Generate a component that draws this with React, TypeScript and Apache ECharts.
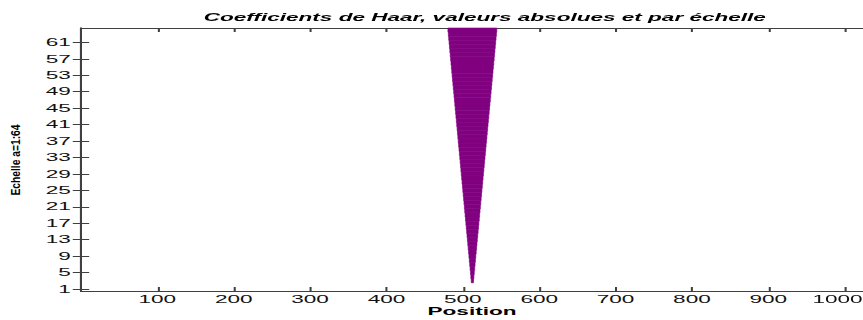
import React, { useEffect, useRef } from "react";
import * as echarts from "echarts";

// The reference picture is stretched horizontally; draw at a narrower width and stretch.
const S = 2.05;
const W = 863 / S;
const H = 320;

const titleText = "Coefficients de Haar, valeurs absolues et par échelle";
const xName = "Position";
const yName = "Echelle a=1:64";

const xTicks = [100, 200, 300, 400, 500, 600, 700, 800, 900, 1000];
const yTicks = [1, 5, 9, 13, 17, 21, 25, 29, 33, 37, 41, 45, 49, 53, 57, 61];

const scales = [
  3, 4, 5, 6, 7, 8, 9, 10, 11, 12, 13, 14, 15, 16, 17, 18, 19, 20, 21, 22, 23, 24, 25, 26, 27, 28, 29, 30, 31, 32, 33,
  34, 35, 36, 37, 38, 39, 40, 41, 42, 43, 44, 45, 46, 47, 48, 49, 50, 51, 52, 53, 54, 55, 56, 57, 58, 59, 60, 61, 62,
  63, 64,
];
const leftEdge = [
  511, 510.5, 510, 509.5, 509, 508.5, 508, 507.5, 507, 506.5, 506, 505.5, 505, 504.5, 504, 503.5, 503, 502.5, 502,
  501.5, 501, 500.5, 500, 499.5, 499, 498.5, 498, 497.5, 497, 496.5, 496, 495.5, 495, 494.5, 494, 493.5, 493, 492.5,
  492, 491.5, 491, 490.5, 490, 489.5, 489, 488.5, 488, 487.5, 487, 486.5, 486, 485.5, 485, 484.5, 484, 483.5, 483,
  482.5, 482, 481.5, 481, 480.5,
];
const rightEdge = [
  514, 514.5, 515, 515.5, 516, 516.5, 517, 517.5, 518, 518.5, 519, 519.5, 520, 520.5, 521, 521.5, 522, 522.5, 523,
  523.5, 524, 524.5, 525, 525.5, 526, 526.5, 527, 527.5, 528, 528.5, 529, 529.5, 530, 530.5, 531, 531.5, 532, 532.5,
  533, 533.5, 534, 534.5, 535, 535.5, 536, 536.5, 537, 537.5, 538, 538.5, 539, 539.5, 540, 540.5, 541, 541.5, 542,
  542.5, 543, 543.5, 544, 544.5,
];

const FONT = "'Liberation Sans', Arial, Helvetica, sans-serif";
const LINE = "#404040";
const FILL = "#800080";

export default function App() {
  const ref = useRef<HTMLDivElement>(null);

  useEffect(() => {
    if (!ref.current) return;
    const chart = echarts.init(ref.current, null, { renderer: "svg", width: W, height: H });
    const data = scales.map((s, i) => [s, leftEdge[i], rightEdge[i]]);
    const lastX = xTicks[xTicks.length - 1];

    const xBase = {
      type: "value",
      min: 0,
      max: 1024,
      splitLine: { show: false },
      axisLine: { show: true, lineStyle: { color: LINE, width: 1 } },
      axisTick: { show: true, inside: true, length: 4, customValues: xTicks, lineStyle: { color: LINE, width: 1 } },
    };
    const yBase = {
      type: "value",
      min: 0.5,
      max: 64.5,
      splitLine: { show: false },
      axisLine: { show: true, lineStyle: { color: LINE, width: 1 } },
      axisTick: { show: true, inside: true, length: 4, customValues: yTicks, lineStyle: { color: LINE, width: 1 } },
    };

    chart.setOption({
      animation: false,
      backgroundColor: "#ffffff",
      title: {
        text: titleText,
        left: 231.5,
        top: 7,
        textAlign: "center",
        textStyle: { fontFamily: FONT, fontSize: 11, fontWeight: "bold", fontStyle: "italic", color: "#000" },
      },
      grid: { left: 39.5, right: 0, top: 28, bottom: 29, containLabel: false, outerBoundsMode: "none" },
      xAxis: [
        {
          ...xBase,
          position: "bottom",
          name: xName,
          nameLocation: "middle",
          nameGap: 15,
          nameMoveOverlap: false,
          nameTextStyle: { fontFamily: FONT, fontSize: 11, lineHeight: 11, fontWeight: "bold", color: "#000" },
          axisLabel: {
            show: true,
            customValues: xTicks,
            margin: 3,
            fontFamily: FONT,
            fontSize: 11,
            color: "#111",
            formatter: (v: number) => (v === lastX ? `{last|${v}}` : String(v)),
            rich: { last: { fontFamily: FONT, fontSize: 11, color: "#111", padding: [0, 7, 0, 0] } },
          },
        },
        { ...xBase, position: "top", axisLabel: { show: false } },
      ],
      yAxis: [
        {
          ...yBase,
          position: "left",
          axisLabel: {
            show: true,
            customValues: yTicks,
            margin: 5,
            fontFamily: FONT,
            fontSize: 11,
            color: "#111",
            formatter: (v: number) => String(v),
          },
        },
        { ...yBase, position: "right", axisLabel: { show: false } },
      ],
      graphic: [
        {
          type: "text",
          x: 7.1,
          y: 160,
          rotation: Math.PI / 2,
          scaleX: 0.79,
          scaleY: 1 / S,
          style: {
            text: yName,
            font: `bold 13px ${FONT}`,
            fill: "#000",
            align: "center",
            verticalAlign: "middle",
          },
        },
      ],
      series: [
        {
          type: "custom",
          xAxisIndex: 0,
          yAxisIndex: 0,
          data,
          encode: { x: [1, 2], y: 0 },
          renderItem: (params: any, api: any) => {
            const a = api.value(0);
            const l = api.value(1);
            const r = api.value(2);
            const p1 = api.coord([l, a + 0.5]);
            const p2 = api.coord([r, a - 0.5]);
            return {
              type: "rect",
              shape: { x: p1[0], y: p1[1], width: p2[0] - p1[0], height: p2[1] - p1[1] },
              style: { fill: FILL, stroke: FILL, lineWidth: 0.4 },
            };
          },
        },
      ],
    });

    return () => chart.dispose();
  }, []);

  return (
    <div
      style={{
        position: "fixed",
        left: 0,
        top: 0,
        width: 863,
        height: 320,
        overflow: "hidden",
        background: "#fff",
      }}
    >
      <div
        ref={ref}
        style={{ width: W, height: H, transform: `scaleX(${S})`, transformOrigin: "0 0" }}
      />
    </div>
  );
}
